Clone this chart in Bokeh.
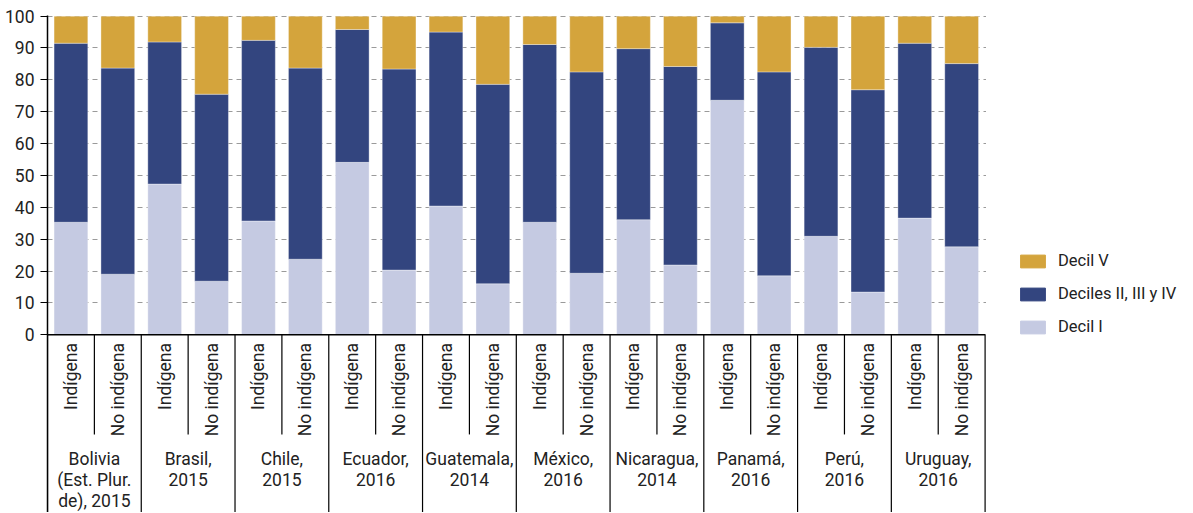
import numpy as np
from bokeh.plotting import figure
from bokeh.layouts import row
from bokeh.models import ColumnDataSource, FixedTicker, Range1d, Legend, LegendItem
from bokeh.core.properties import value
from bokeh.embed import file_html
from bokeh.resources import INLINE

countries = ["Bolivia\n(Est. Plur.\nde), 2015", "Brasil,\n2015", "Chile,\n2015", "Ecuador,\n2016",
             "Guatemala,\n2014", "México,\n2016", "Nicaragua,\n2014", "Panamá,\n2016",
             "Perú,\n2016", "Uruguay,\n2016"]
groups = ["Indígena", "No indígena"]

decil_1 = [35.3, 19.0, 47.3, 16.8, 35.7, 23.7, 54.1, 20.3, 40.4, 16.0,
           35.3, 19.3, 36.1, 21.9, 73.6, 18.5, 30.9, 13.4, 36.6, 27.6]
deciles_2_4 = [56.2, 64.7, 44.6, 58.7, 56.7, 60.0, 41.7, 63.1, 54.6, 62.6,
               55.8, 63.2, 53.7, 62.3, 24.3, 64.0, 59.3, 63.5, 54.9, 57.5]
decil_5 = [8.5, 16.3, 8.1, 24.5, 7.6, 16.3, 4.2, 16.6, 5.0, 21.4,
           8.9, 17.5, 10.2, 15.8, 2.1, 17.5, 9.8, 23.1, 8.5, 14.9]

series_names = ["Decil I", "Deciles II, III y IV", "Decil V"]
colors = ["#C5CAE2", "#33457F", "#D4A43C"]

FONT = "Roboto"
n = len(decil_1)
xs = [i + 0.5 for i in range(n)]

source = ColumnDataSource(dict(x=xs, d1=decil_1, d24=deciles_2_4, d5=decil_5))

Y_MIN = -55.8
p = figure(width=986, height=512, output_backend="svg", toolbar_location=None,
           x_range=Range1d(0, 20.03), y_range=Range1d(Y_MIN, 100.2),
           x_axis_location=None, min_border_left=47, min_border_right=0,
           min_border_top=15, min_border_bottom=0)
p.outline_line_color = None
p.xgrid.visible = False

p.ygrid.ticker = FixedTicker(ticks=list(range(0, 101, 10)))
p.ygrid.grid_line_color = "#9a9a9a"
p.ygrid.grid_line_dash = "5 4"
p.ygrid.grid_line_width = 1

yax = p.yaxis[0]
yax.ticker = FixedTicker(ticks=list(range(0, 101, 10)))
yax.axis_line_color = "black"
yax.axis_line_width = 1.5
yax.major_tick_line_color = "black"
yax.major_tick_line_width = 1.2
yax.major_tick_out = 7
yax.major_tick_in = 0
yax.minor_tick_line_color = None
yax.major_label_standoff = 6
yax.major_label_text_font = FONT
yax.major_label_text_font_size = "17.5px"
yax.major_label_text_color = "#222222"

rs = p.vbar_stack(["d1", "d24", "d5"], x="x", width=0.72, source=source,
                  color=colors, line_color="white", line_alpha=0.35, line_width=1)

# x axis line and separators
p.segment(x0=[0], y0=[0], x1=[20], y1=[0], line_color="black", line_width=1.5)
gx = list(range(0, 21, 2))
p.segment(x0=gx, y0=[0] * len(gx), x1=gx, y1=[Y_MIN] * len(gx), line_color="black", line_width=1.2)
ix = list(range(1, 20, 2))
p.segment(x0=ix, y0=[0] * len(ix), x1=ix, y1=[-31.3] * len(ix), line_color="black", line_width=1.2)

# inner labels
sub_labels = [groups[i % 2] for i in range(n)]
p.text(x=xs, y=[-2.6] * n, text=sub_labels, angle=np.pi / 2, text_align="right",
       text_baseline="middle", text_font=value(FONT), text_font_size="17.5px", text_color="#222222")

# group labels
gxc = [2 * k + 1 for k in range(len(countries))]
p.text(x=gxc, y=[-36.0] * len(countries), text=countries, text_align="center",
       text_baseline="top", text_font=value(FONT), text_font_size="17.5px",
       text_line_height=1.03, text_color="#222222")

# legend panel
pl = figure(width=206, height=512, output_backend="svg", toolbar_location=None,
            x_range=Range1d(0, 1), y_range=Range1d(0, 1),
            x_axis_location=None, y_axis_location=None,
            min_border_left=0, min_border_right=0, min_border_top=0, min_border_bottom=0)
pl.outline_line_color = None
pl.xgrid.visible = False
pl.ygrid.visible = False
hidden = ColumnDataSource(dict(x=[5.0], top=[5.0], bottom=[4.0]))
lr = [pl.vbar(x="x", top="top", bottom="bottom", width=0.5, source=hidden, color=c) for c in colors]

legend = Legend(items=[LegendItem(label=series_names[2], renderers=[lr[2]]),
                       LegendItem(label=series_names[1], renderers=[lr[1]]),
                       LegendItem(label=series_names[0], renderers=[lr[0]])],
                location=(31, 176), orientation="vertical")
legend.glyph_width = 31
legend.glyph_height = 16
legend.label_height = 16
legend.spacing = 14
legend.padding = 0
legend.margin = 0
legend.label_standoff = 10
legend.border_line_color = None
legend.background_fill_alpha = 0
legend.label_text_font = FONT
legend.label_text_font_size = "16.5px"
legend.label_text_color = "#222222"
pl.add_layout(legend)

layout = row(p, pl, spacing=0)
open("out.html", "w").write(file_html(layout, INLINE))
